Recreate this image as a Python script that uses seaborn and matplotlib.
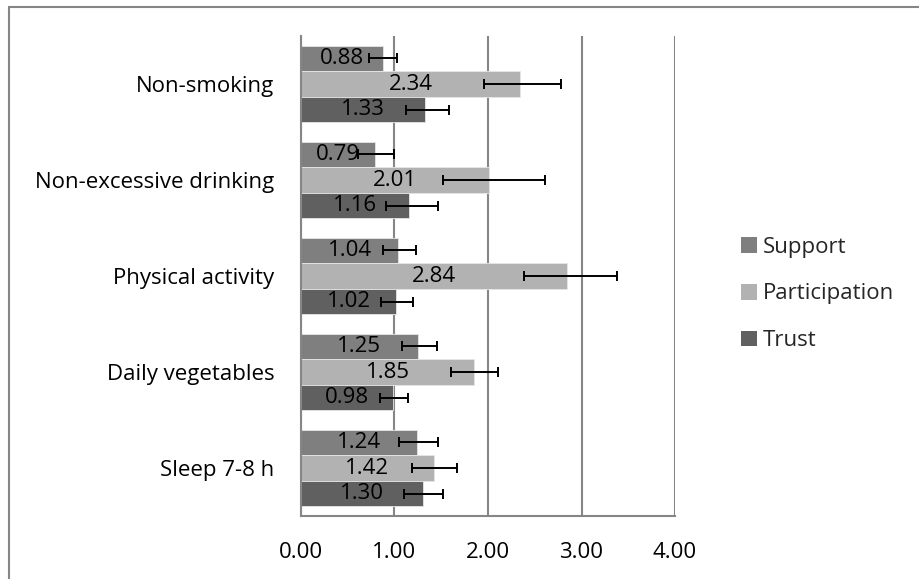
import matplotlib
matplotlib.use("Agg")
import matplotlib.pyplot as plt
import seaborn as sns
import pandas as pd
import numpy as np
from matplotlib.lines import Line2D
from matplotlib.patches import Patch

categories = ["Non-smoking", "Non-excessive drinking", "Physical activity",
              "Daily vegetables", "Sleep 7-8 h"]
series = ["Support", "Participation", "Trust"]

support = [0.88, 0.79, 1.04, 1.25, 1.24]
support_lo = [0.73, 0.61, 0.88, 1.08, 1.05]
support_hi = [1.03, 0.99, 1.23, 1.45, 1.46]

participation = [2.34, 2.01, 2.84, 1.85, 1.42]
participation_lo = [1.96, 1.52, 2.39, 1.60, 1.19]
participation_hi = [2.78, 2.61, 3.38, 2.11, 1.67]

trust = [1.33, 1.16, 1.02, 0.98, 1.30]
trust_lo = [1.12, 0.91, 0.86, 0.84, 1.10]
trust_hi = [1.58, 1.46, 1.20, 1.14, 1.52]

x_ticks = [0, 1, 2, 3, 4]

colors = {"Support": "#7F7F7F", "Participation": "#B2B2B2", "Trust": "#606060"}

vals = {"Support": (support, support_lo, support_hi),
        "Participation": (participation, participation_lo, participation_hi),
        "Trust": (trust, trust_lo, trust_hi)}

rows = []
for s in series:
    v = vals[s][0]
    for c, val in zip(categories, v):
        rows.append({"category": c, "series": s, "value": val})
df = pd.DataFrame(rows)

sns.set_theme(style="white")
plt.rcParams["font.family"] = ["Open Sans", "DejaVu Sans"]

fig = plt.figure(figsize=(9.2, 5.79), dpi=100)
ax = fig.add_axes([301 / 920, 1 - 516 / 579, (675 - 301) / 920, (516 - 36) / 579])

sns.barplot(data=df, y="category", x="value", hue="series", order=categories,
            hue_order=series, palette=colors, orient="h", errorbar=None,
            width=0.8, ax=ax, edgecolor="#E6E6E6", linewidth=0.6, legend=False)

for cont, s in zip(ax.containers, series):
    v, lo, hi = vals[s]
    ys = [p.get_y() + p.get_height() / 2 for p in cont.patches]
    xerr = [np.array(v) - np.array(lo), np.array(hi) - np.array(v)]
    ax.errorbar(v, ys, xerr=xerr, fmt="none", ecolor="black", elinewidth=1.4,
                capsize=3.8, capthick=1.4, zorder=5)
    ax.bar_label(cont, labels=[f"{x:.2f}" for x in v], label_type="center",
                 fontsize=16, color="black", zorder=6)

ax.set_xlim(0, 4)
ax.set_ylim(len(categories) - 0.5, -0.5)
ax.set_xticks(x_ticks)
ax.set_xticklabels([f"{t:.2f}" for t in x_ticks])
ax.set_xlabel("")
ax.set_ylabel("")
ax.xaxis.grid(True, color="#868686", linewidth=1.5)
ax.yaxis.grid(False)
ax.set_axisbelow(True)
for side in ["top", "right"]:
    ax.spines[side].set_visible(False)
for side in ["left", "bottom"]:
    ax.spines[side].set_color("#868686")
    ax.spines[side].set_linewidth(1.5)
ax.tick_params(axis="y", length=0, pad=19, labelsize=16, labelcolor="black")
ax.tick_params(axis="x", length=0, pad=18.5, labelsize=16, labelcolor="black")

handles = [Patch(facecolor=colors[s], edgecolor="none", label=s) for s in series]
fig.legend(handles=handles, loc="center left", bbox_to_anchor=(741 / 920, 1 - 294 / 579),
           frameon=False, fontsize=16, handlelength=0.7, handleheight=0.7,
           handletextpad=0.3, labelspacing=1.15, borderpad=0, borderaxespad=0)

fig.add_artist(Line2D([8.5 / 920, 1.0], [1 - 6.5 / 579, 1 - 6.5 / 579],
                      color="#868686", linewidth=1.5, transform=fig.transFigure))
fig.add_artist(Line2D([8.5 / 920, 8.5 / 920], [0.0, 1 - 6.5 / 579],
                      color="#868686", linewidth=1.5, transform=fig.transFigure))

fig.savefig("out.png", dpi=100)
